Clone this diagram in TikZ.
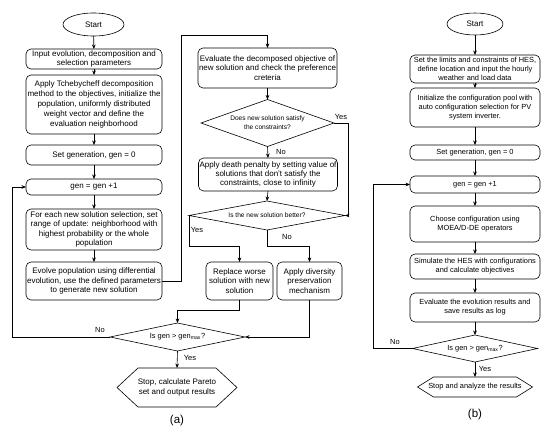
\documentclass[tikz,border=0pt]{standalone}
\usepackage{fontspec}
\setmainfont{Liberation Sans}
\usetikzlibrary{shapes.geometric,arrows.meta,calc}
\begin{document}
\begin{tikzpicture}[x=1pt,y=-1pt,
  line/.style={draw=black,line width=0.6pt},
  arr/.style={line,-{Stealth[length=4.5pt,width=3.6pt]}},
  boxA/.style={line,rounded corners=5pt,align=center,inner sep=1pt,outer sep=0pt,font=\fontsize{8}{9.3}\selectfont},
  boxB/.style={line,rounded corners=5pt,align=center,inner sep=1pt,outer sep=0pt,font=\fontsize{7.4}{9}\selectfont},
  startnode/.style={line,ellipse,inner sep=0pt,outer sep=0pt,font=\fontsize{8}{9}\selectfont},
  decision/.style={line,diamond,inner sep=0pt,outer sep=0pt,align=center,font=\fontsize{6.6}{9}\selectfont},
  hexnode/.style={inner sep=0pt,outer sep=0pt,align=center},
  lbl/.style={font=\fontsize{7.5}{9}\selectfont,inner sep=0pt},
  captext/.style={font=\fontsize{11.5}{13}\selectfont,inner sep=0pt}
]
\useasboundingbox (0,0) rectangle (550,434);

% ---------------- (a) ----------------
\node[startnode,minimum width=61pt,minimum height=23pt] (sa) at (93.5,24.5) {Start};
\node[boxA,minimum width=136pt,minimum height=20pt] (a1) at (94,59) {Input evolution, decomposition and\\selection parameters};
\node[boxA,minimum width=136pt,minimum height=59pt,font=\fontsize{8}{10}\selectfont] (a2) at (94,104.5) {Apply Tchebycheff decomposition\\method to the objectives, initialize the\\population, uniformly distributed\\weight vector and define the\\evaluation neighborhood};
\node[boxA,minimum width=136pt,minimum height=20pt] (a3) at (94,155) {Set generation, gen = 0};
\node[boxA,minimum width=136pt,minimum height=16pt] (a4) at (94,187) {gen = gen +1};
\node[boxA,minimum width=136pt,minimum height=41pt] (a5) at (94,229.5) {For each new solution selection, set\\range of update: neighborhood with\\highest probability or the whole\\population};
\node[boxA,minimum width=136pt,minimum height=38pt] (a6) at (94,281) {Evolve population using differential\\evolution, use the defined parameters\\to generate new solution};

\node[boxA,minimum width=137pt,minimum height=40pt] (ev) at (267.5,68) {Evaluate the decomposed objective of\\new solution and check the preference\\creteria};
\node[decision,minimum width=133pt,minimum height=47pt,aspect=2.8] (d1) at (267.5,123) {Does new solution satisfy\\the constraints?};
\node[boxA,minimum width=136pt,minimum height=33pt] (dp) at (268,174.5) {Apply death penalty by setting value of\\solutions that don't satisfy the\\constraints, close to infinity};
\node[decision,minimum width=156pt,minimum height=29pt,aspect=5.4] (d2) at (267,215.5) {Is the new solution better?};
\node[boxA,minimum width=67pt,minimum height=38pt] (rp) at (239.5,281) {Replace worse\\solution with new\\solution};
\node[boxA,minimum width=65pt,minimum height=38pt] (dv) at (309.5,281) {Apply diversity\\preservation\\mechanism};
\node[decision,minimum width=135pt,minimum height=28pt,aspect=4.8,font=\fontsize{7.4}{9}\selectfont] (d3) at (177.5,337) {Is gen > gen\textsubscript{max}?};
\node[hexnode,minimum width=120pt,minimum height=39pt,font=\fontsize{8}{10}\selectfont] (ha) at (177,387.5) {Stop, calculate Pareto\\set and output results};
\draw[line] ($(ha.north west)+(21,0)$) -- ($(ha.north east)+(-21,0)$) -- (ha.east) -- ($(ha.south east)+(-21,0)$) -- ($(ha.south west)+(21,0)$) -- (ha.west) -- cycle;

\coordinate (c1) at (181,35);
\coordinate (c2) at (348,123);
\coordinate (c3) at (189,246);
\coordinate (c4) at (267,246);
\coordinate (c5) at (177.5,310);
\coordinate (c6) at (12,337);

\draw[arr] (sa) -- (a1);
\draw[arr] (a1) -- (a2);
\draw[arr] (a2) -- (a3);
\draw[arr] (a3) -- (a4);
\draw[arr] (a4) -- (a5);
\draw[arr] (a5) -- (a6);
\draw[arr] (a6.east) -| (c1) -| (ev.north);
\draw[arr] (ev) -- (d1);
\draw[arr] (d1.east) -- (c2) |- (d2.east);
\draw[arr] (d1.south) -- (dp.north);
\draw[arr] (dp.south) -- (d2.north);
\draw[arr] (d2.west) -- (c3) -| (rp.north);
\draw[arr] (d2.south) -- (c4) -| (dv.north);
\draw[arr] (rp.south) |- (c5) -- (d3.north);
\draw[arr] (dv.south) |- (d3.east);
\draw[arr] (d3.west) -- (c6) |- (a4.west);
\draw[arr] (d3.south) -- ($(ha.north west)!0.5!(ha.north east)$);

\node[lbl] (y1) at (341,117) {Yes};
\node[lbl] (n1) at (281,152) {No};
\node[lbl] (y2) at (197,230) {Yes};
\node[lbl] (n2) at (287,237) {No};
\node[lbl] (n3) at (100,330) {No};
\node[lbl] (y3) at (190,358) {Yes};
\node[captext] (capa) at (177,421) {(a)};

% ---------------- (b) ----------------
\node[startnode,minimum width=56pt,minimum height=22pt] (sb) at (475,24) {Start};
\node[boxB,minimum width=130pt,minimum height=28pt] (b1) at (475,69) {Set the limits and constraints of HES,\\define location and input the hourly\\weather and load data};
\node[boxB,minimum width=130pt,minimum height=39pt] (b2) at (475,107.5) {Initialize the configuration pool with\\auto configuration selection for PV\\system inverter.};
\node[boxB,minimum width=130pt,minimum height=15pt] (b3) at (475,152.5) {Set generation, gen = 0};
\node[boxB,minimum width=130pt,minimum height=17pt] (b4) at (475,184.5) {gen = gen +1};
\node[boxB,minimum width=130pt,minimum height=36pt] (b5) at (475,224) {Choose configuration using\\MOEA/D-DE operators};
\node[boxB,minimum width=130pt,minimum height=25pt] (b6) at (475,266.5) {Simulate the HES with configurations\\and calculate objectives};
\node[boxB,minimum width=130pt,minimum height=29pt] (b7) at (475,307.5) {Evaluate the evolution results and\\save results as log};
\node[decision,minimum width=125pt,minimum height=27pt,aspect=4.6,font=\fontsize{7.4}{9}\selectfont] (d4) at (475,348.5) {Is gen > gen\textsubscript{max}?};
\node[hexnode,minimum width=115pt,minimum height=20pt,font=\fontsize{7.4}{9}\selectfont] (hb) at (475,387) {Stop and analyze the results};
\draw[line] ($(hb.north west)+(16,0)$) -- ($(hb.north east)+(-16,0)$) -- (hb.east) -- ($(hb.south east)+(-16,0)$) -- ($(hb.south west)+(16,0)$) -- (hb.west) -- cycle;

\coordinate (c7) at (373,348.5);

\draw[arr] (sb) -- (b1);
\draw[arr] (b1) -- (b2);
\draw[arr] (b2) -- (b3);
\draw[arr] (b3) -- (b4);
\draw[arr] (b4) -- (b5);
\draw[arr] (b5) -- (b6);
\draw[arr] (b6) -- (b7);
\draw[arr] (b7) -- (d4);
\draw[arr] (d4.west) -- (c7) |- (b4.west);
\draw[arr] (d4.south) -- ($(hb.north west)!0.5!(hb.north east)$);

\node[lbl] (n4) at (395,342) {No};
\node[lbl] (y4) at (485,369) {Yes};
\node[captext] (capb) at (475,415) {(b)};
\end{tikzpicture}
\end{document}
